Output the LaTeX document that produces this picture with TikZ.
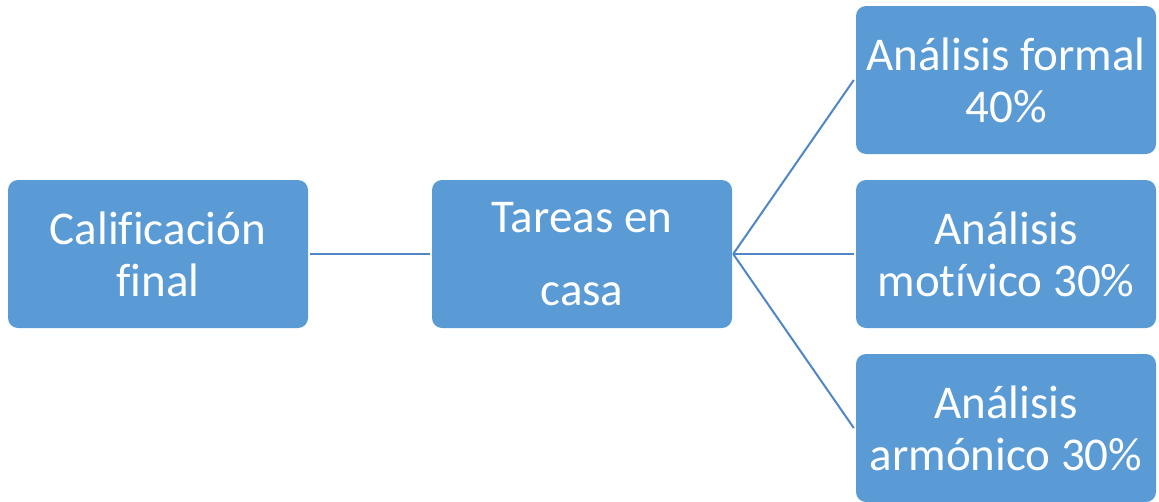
\documentclass[tikz,border=0pt]{standalone}
\usepackage{fontspec}
\setmainfont[Ligatures={NoCommon}]{Carlito}
\definecolor{boxfill}{HTML}{5B9BD5}
\definecolor{linkcol}{HTML}{4F86C3}
\begin{document}
\begin{tikzpicture}[x=1pt,y=-1pt,
  box/.style={fill=boxfill, draw=none, rounded corners=10pt, minimum width=300pt, minimum height=148pt,
    text=white, align=center, inner sep=0pt, font=\fontsize{47}{52}\selectfont},
  link/.style={draw=linkcol, line width=2pt}]
\useasboundingbox (0,0) rectangle (1159,501);
\node[box] (cal) at (158,254) {Calificación\\final};
\node[box, font=\fontsize{47}{73}\selectfont] (tar) at (582,254) {Tareas en\\casa};
\node[box] (for) at (1006,80) {Análisis formal\\40\%};
\node[box] (mot) at (1006,254) {Análisis\\motívico 30\%};
\node[box] (arm) at (1006,428) {Análisis\\armónico 30\%};
\draw[link] ([xshift=2pt]cal.east) -- ([xshift=-2pt]tar.west);
\draw[link] ([xshift=1pt]tar.east) -- ([xshift=-2pt]for.west);
\draw[link] ([xshift=1pt]tar.east) -- ([xshift=-2pt]mot.west);
\draw[link] ([xshift=1pt]tar.east) -- ([xshift=-2pt]arm.west);
\end{tikzpicture}
\end{document}
